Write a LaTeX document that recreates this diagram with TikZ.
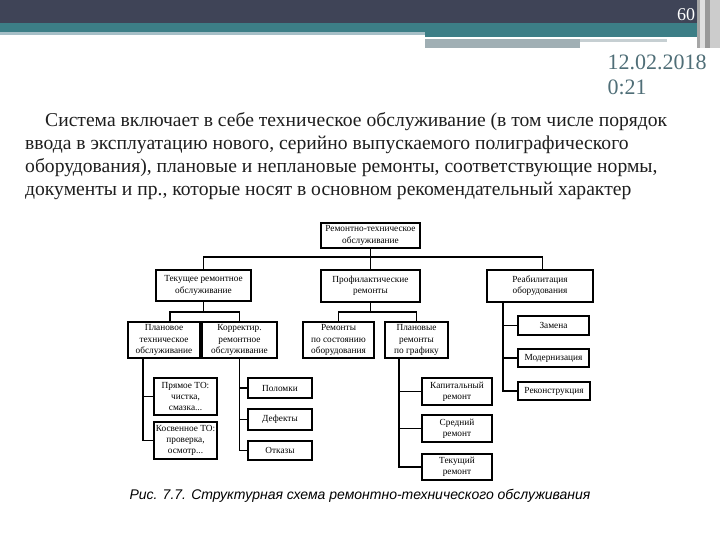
\documentclass[tikz,border=0pt]{standalone}
\usepackage{fontspec}
\setmainfont{Liberation Serif}
\newfontfamily\capfont{Liberation Sans}
\definecolor{hdark}{HTML}{3F4457}
\definecolor{hteal}{HTML}{3C7E86}
\definecolor{hlight}{HTML}{A6BFC7}
\definecolor{hgray}{HTML}{A0AFB4}
\definecolor{datecol}{HTML}{4F6E77}
\definecolor{bodytext}{HTML}{1E1E1E}

\begin{document}
\begin{tikzpicture}[x=1pt, y=-1pt,
                    box/.style={draw, line width=1.2pt, align=center, inner sep=0pt,
                                font=\fontsize{9.3}{11.3}\selectfont},
                    wire/.style={line width=1.1pt}]
  \useasboundingbox (0,0) rectangle (720,540);
  \fill[hdark] (0,0) rectangle (697,23);
  \fill[hteal] (0,23) rectangle (697,32);
  \fill[hlight] (0,32) rectangle (425,35);
  \fill[hteal] (425,32) rectangle (697,37);
  \fill[hgray] (425,39) rectangle (580,48);
  \fill[hgray!60] (580,39) rectangle (667,42);
  \fill[gray!70] (697,0) rectangle (700,48);
  \fill[gray!25] (700,0) rectangle (705,48);
  \fill[gray!80] (705,0) rectangle (710,48);
  \fill[gray!40] (710,0) rectangle (720,48);
  \node[white, font=\fontsize{18}{18}\selectfont] (page) at (686,15) {60};
  \node[datecol, anchor=west, align=left, font=\fontsize{22}{25}\selectfont] (date) at (604,75) {12.02.2018\\0:21};

  \node[bodytext, anchor=north west, align=left, inner sep=0pt,
        font=\fontsize{19.6}{23}\selectfont] (para) at (25,112)
    {\hspace*{20pt}Система включает в себе техническое обслуживание (в том числе порядок\\
     ввода в эксплуатацию нового, серийно выпускаемого полиграфического\\
     оборудования), плановые и неплановые ремонты, соответствующие нормы,\\
     документы и пр., которые носят в основном рекомендательный характер};

  \node[box, minimum width=99pt, minimum height=25pt] (top) at (370.5,235.5) {Ремонтно-техническое\\обслуживание};
  \node[box, minimum width=95pt, minimum height=31pt] (tek) at (203.5,285.5) {Текущее ремонтное\\обслуживание};
  \node[box, minimum width=99pt, minimum height=32pt] (prof) at (370.5,286) {Профилактические\\ремонты};
  \node[box, minimum width=106pt, minimum height=32pt] (reab) at (540,286) {Реабилитация\\оборудования};
  \node[box, minimum width=72pt, minimum height=36pt] (plto) at (164,340) {Плановое\\техническое\\обслуживание};
  \node[box, minimum width=75pt, minimum height=36pt] (korr) at (239.5,340) {Корректир.\\ремонтное\\обслуживание};
  \node[box, minimum width=71pt, minimum height=36pt] (rsost) at (338.5,340) {Ремонты\\по состоянию\\оборудования};
  \node[box, minimum width=63pt, minimum height=36pt] (rgraf) at (416.5,340) {Плановые\\ремонты\\по графику};
  \node[box, minimum width=71pt, minimum height=19pt] (zam) at (553.5,325.5) {Замена};
  \node[box, minimum width=71pt, minimum height=18pt] (mod) at (553.5,358) {Модернизация};
  \node[box, minimum width=72pt, minimum height=18pt] (rek) at (554,391) {Реконструкция};
  \node[box, minimum width=70pt, minimum height=27pt] (kap) at (457,391.5) {Капитальный\\ремонт};
  \node[box, minimum width=70pt, minimum height=27pt] (sred) at (457,428.5) {Средний\\ремонт};
  \node[box, minimum width=70pt, minimum height=26pt] (tekr) at (457,467) {Текущий\\ремонт};
  \node[box, minimum width=63pt, minimum height=37pt] (pryam) at (185.5,396.5) {Прямое ТО:\\чистка,\\смазка...};
  \node[box, minimum width=63pt, minimum height=37pt] (kosv) at (185.5,440.5) {Косвенное ТО:\\проверка,\\осмотр...};
  \node[box, minimum width=64pt, minimum height=20pt] (polom) at (280,388) {Поломки};
  \node[box, minimum width=64pt, minimum height=21pt] (def) at (280,419.5) {Дефекты};
  \node[box, minimum width=64pt, minimum height=19pt] (otk) at (280,450.5) {Отказы};

  \coordinate (bus) at (0,257);
  \draw[wire] (top) -- (prof);
  \draw[wire] (tek.north) -- (tek.north |- bus) -| ([xshift=2.5pt]reab.north);
  \draw[wire] (tek) -- ++(0,26.5) coordinate (tbus);
  \draw[wire] ([xshift=6pt]plto.north) |- (tbus) -| (korr.north);
  \draw[wire] (prof) -- ++(0,26) coordinate (pbus);
  \draw[wire] (rsost.north) |- (pbus) -| (rgraf.north);

  \coordinate (rv) at ([xshift=-37pt]reab.south);
  \draw[wire] (rv) |- (rek.west);
  \draw[wire] (rv |- zam.west) -- (zam.west);
  \draw[wire] (rv |- mod.west) -- (mod.west);

  \coordinate (gv) at ([xshift=-17.5pt]rgraf.south);
  \draw[wire] (gv) |- (tekr.west);
  \draw[wire] (gv |- kap.west) -- (kap.west);
  \draw[wire] (gv |- sred.west) -- (sred.west);

  \coordinate (lv) at ([xshift=-21pt]plto.south);
  \draw[wire] (lv) |- (kosv.west);
  \draw[wire] (lv |- pryam.west) -- (pryam.west);

  \coordinate (kv) at (korr.south);
  \draw[wire] (kv) |- (otk.west);
  \draw[wire] (kv |- polom.west) -- (polom.west);
  \draw[wire] (kv |- def.west) -- (def.west);

  \node[font=\capfont\itshape\fontsize{14}{14}\selectfont] (cap) at (360,496)
    {Рис. 7.7. Структурная схема ремонтно-технического обслуживания};
\end{tikzpicture}
\end{document}
